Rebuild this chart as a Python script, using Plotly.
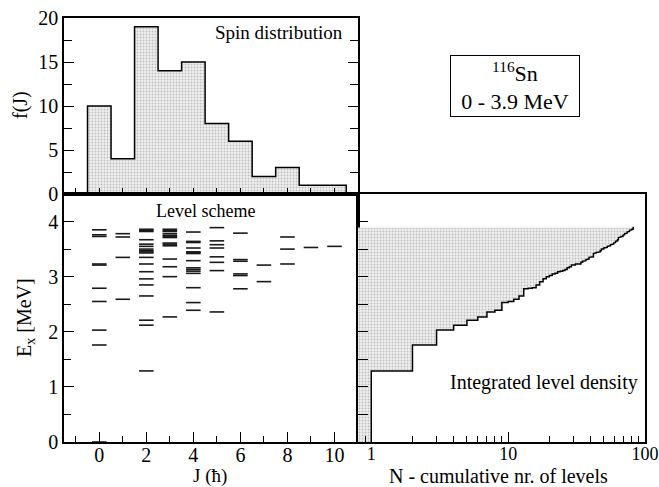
import math
import plotly.graph_objects as go

# ---------------- data ----------------
J_VALUES = [0, 1, 2, 3, 4, 5, 6, 7, 8, 9, 10]
SPIN_COUNTS = [10, 4, 19, 14, 15, 8, 6, 2, 3, 1, 1]

LEVELS_J0 = [0.0, 1.76, 2.03, 2.55, 2.79, 3.21, 3.23, 3.73, 3.76, 3.85]
LEVELS_J1 = [2.59, 3.35, 3.72, 3.78]
LEVELS_J2 = [1.29, 2.12, 2.21, 2.65, 2.85, 2.96, 3.09, 3.23, 3.35, 3.43, 3.45,
             3.47, 3.50, 3.55, 3.59, 3.67, 3.82, 3.84, 3.86]
LEVELS_J3 = [2.27, 3.00, 3.18, 3.32, 3.56, 3.59, 3.61, 3.71, 3.73, 3.75, 3.78,
             3.82, 3.84, 3.86]
LEVELS_J4 = [2.39, 2.53, 2.80, 3.06, 3.10, 3.13, 3.16, 3.29, 3.42, 3.44, 3.45,
             3.52, 3.62, 3.64, 3.81]
LEVELS_J5 = [2.36, 3.11, 3.26, 3.36, 3.52, 3.58, 3.65, 3.89]
LEVELS_J6 = [2.78, 3.02, 3.05, 3.28, 3.31, 3.79]
LEVELS_J7 = [2.91, 3.21]
LEVELS_J8 = [3.23, 3.50, 3.72]
LEVELS_J9 = [3.53]
LEVELS_J10 = [3.55]

LEVELS = [LEVELS_J0, LEVELS_J1, LEVELS_J2, LEVELS_J3, LEVELS_J4, LEVELS_J5,
          LEVELS_J6, LEVELS_J7, LEVELS_J8, LEVELS_J9, LEVELS_J10]

FONT = "Liberation Serif"
PATTERN = dict(shape=".", fgcolor="#8f8f8f", bgcolor="#eeeeee", size=3, solidity=0.3)

fig = go.Figure()

# ---------------- spin distribution (top panel) ----------------
fig.add_trace(go.Bar(x=J_VALUES, y=SPIN_COUNTS, width=1.0,
                     marker=dict(color="#e6e6e6", pattern=PATTERN, line=dict(width=0)),
                     xaxis="x", yaxis="y", showlegend=False, hoverinfo="skip"))
hx, hy = [J_VALUES[0] - 0.5], [0]
for j, c in zip(J_VALUES, SPIN_COUNTS):
    hx += [j - 0.5, j + 0.5]
    hy += [c, c]
hx.append(J_VALUES[-1] + 0.5)
hy.append(0)
fig.add_trace(go.Scatter(x=hx, y=hy, mode="lines", line=dict(color="black", width=1.5),
                         xaxis="x", yaxis="y", showlegend=False, hoverinfo="skip"))

# ---------------- level scheme (bottom left) ----------------
half = 0.31
lx, ly = [], []
for j, lev in zip(J_VALUES, LEVELS):
    for e in lev:
        lx += [j - half, j + half, None]
        ly += [e, e, None]
fig.add_trace(go.Scatter(x=lx, y=ly, mode="lines", line=dict(color="#1a1a1a", width=1.6),
                         xaxis="x2", yaxis="y2", showlegend=False, hoverinfo="skip"))

# ---------------- integrated level density (bottom right) ----------------
energies = sorted(e for lev in LEVELS for e in lev)
n = len(energies)
sx, sy = [1], [energies[0]]
for k in range(1, n):
    sx += [k, k + 1]
    sy += [energies[k], energies[k]]
XMIN = 0.8
fx = sx + [XMIN, XMIN, sx[0]]
fy = sy + [energies[-1], 0, sy[0]]
fig.add_trace(go.Scatter(x=fx, y=fy, mode="lines", fill="toself", line=dict(width=0),
                         fillcolor="#e6e6e6", fillpattern=PATTERN,
                         xaxis="x3", yaxis="y3", showlegend=False, hoverinfo="skip"))
fig.add_trace(go.Scatter(x=[1] + sx, y=[0] + sy, mode="lines",
                         line=dict(color="black", width=1.5),
                         xaxis="x3", yaxis="y3", showlegend=False, hoverinfo="skip"))

# ---------------- layout ----------------
L, R, T, B = 64, 14, 18, 45
W, H = 659, 487
PW, PH = W - L - R, H - T - B
XS = (358 - L) / PW
YS = (H - B - 194) / PH

axis_common = dict(showline=True, linecolor="black", linewidth=1.5, showgrid=False,
                   zeroline=False, ticks="inside", tickcolor="black", tickwidth=1.2,
                   automargin=False, ticklabeloverflow="allow",
                   tickfont=dict(family=FONT, size=20, color="black"))

fig.update_layout(
    width=W, height=H, margin=dict(l=L, r=R, t=T, b=B, autoexpand=False),
    paper_bgcolor="white", plot_bgcolor="white", bargap=0,
    font=dict(family=FONT, color="black"),
    xaxis=dict(axis_common, domain=[0, XS], anchor="y", range=[-1.5, 11],
               tickmode="linear", tick0=0, dtick=1, ticklen=6, showticklabels=False,
               mirror=True),
    yaxis=dict(axis_common, domain=[YS, 1], anchor="x", range=[0, 20],
               tickmode="linear", tick0=0, dtick=5, ticklen=10, mirror="ticks",
               minor=dict(ticks="inside", dtick=2.5, ticklen=8, tickcolor="black")),
    xaxis2=dict(axis_common, domain=[0, XS], anchor="y2", range=[-1.5, 11],
                tickmode="linear", tick0=0, dtick=2, ticklen=10, mirror=True,
                ticklabelstandoff=-6,
                minor=dict(ticks="inside", dtick=1, ticklen=6, tickcolor="black")),
    yaxis2=dict(axis_common, domain=[0, YS], anchor="x2", range=[0, 4.5],
                tickmode="linear", tick0=0, dtick=1, ticklen=10, mirror=True,
                minor=dict(ticks="inside", dtick=0.5, ticklen=7, tickcolor="black")),
    xaxis3=dict(axis_common, domain=[XS, 1], anchor="y3", type="log",
                range=[math.log10(XMIN), 2], dtick=1, ticklen=10, mirror=True,
                ticklabelstandoff=-5,
                tickfont=dict(family=FONT, size=18, color="black"),
                minor=dict(ticks="inside", ticklen=6, tickcolor="black")),
    yaxis3=dict(axis_common, domain=[0, YS], anchor="x3", range=[0, 4.5],
                tickmode="linear", tick0=0, dtick=1, ticklen=10, mirror=True,
                showticklabels=False,
                minor=dict(ticks="inside", dtick=0.5, ticklen=10, tickcolor="black")),
)


def px(x):
    return (x - L) / PW


def py(y):
    return (H - B - y) / PH


ann = [
    dict(text="Spin distribution", x=px(345), y=py(33), xanchor="right", yanchor="middle",
         font=dict(size=19)),
    dict(text="Level scheme", x=px(205), y=py(211), xanchor="center", yanchor="middle",
         font=dict(size=18)),
    dict(text="Integrated level density", x=px(544), y=py(382), xanchor="center",
         yanchor="middle", font=dict(size=20)),
    dict(text="<sup>116</sup>Sn<br>0 - 3.9 MeV", x=px(515), y=py(86), xanchor="center",
         yanchor="middle", font=dict(size=22), bordercolor="black", borderwidth=1,
         borderpad=1, width=126, height=58, bgcolor="white"),
    dict(text="f(J)", x=px(20), y=py(105), textangle=-90, xanchor="center",
         yanchor="middle", font=dict(size=20)),
    dict(text="E<sub>x</sub> [MeV]", x=px(25), y=py(318), textangle=-90, xanchor="center",
         yanchor="middle", font=dict(size=20)),
    dict(text="J (ħ)", x=px(210), y=py(476), xanchor="center", yanchor="middle",
         font=dict(size=19)),
    dict(text="N - cumulative nr. of levels", x=px(498), y=py(476), xanchor="center",
         yanchor="middle", font=dict(size=20)),
]
for a in ann:
    a.update(xref="paper", yref="paper", showarrow=False)
    a["font"] = dict(family=FONT, color="black", **a["font"])
fig.update_layout(annotations=ann)

fig.write_html("out.html")
